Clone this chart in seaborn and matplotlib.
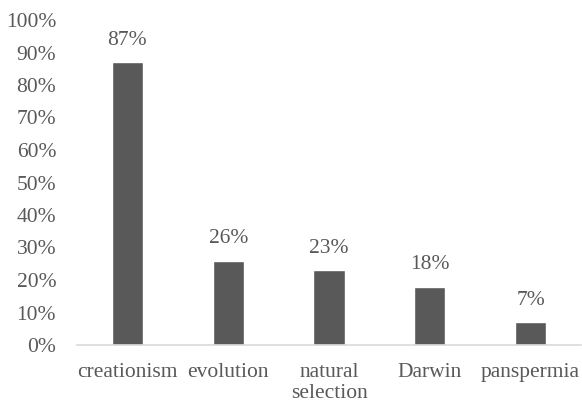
import matplotlib
matplotlib.use("Agg")
import matplotlib.pyplot as plt
import seaborn as sns
import pandas as pd
from matplotlib.ticker import PercentFormatter

categories = ["creationism", "evolution", "natural\nselection", "Darwin", "panspermia"]
shares = [87, 26, 23, 18, 7]
y_ticks = list(range(0, 101, 10))

sns.set_theme(style="white")
plt.rcParams["font.family"] = ["Liberation Serif", "DejaVu Serif"]

text_color = "#595959"
bar_color = "#595959"
font_size = 15.5

df = pd.DataFrame({"term": categories, "share": shares})

fig = plt.figure(figsize=(5.82, 4.03), dpi=100)
ax = fig.add_axes([77 / 582, 58 / 403, 504 / 582, 325 / 403])

sns.barplot(data=df, x="term", y="share", color=bar_color, width=0.31,
            saturation=1, ax=ax)

for patch, val in zip(ax.patches, shares):
    ax.text(patch.get_x() + patch.get_width() / 2, val + 3.7, f"{val}%",
            ha="center", va="bottom", fontsize=font_size, color=text_color)

ax.set_ylim(0, 100)
ax.set_xlim(-0.5, len(categories) - 0.5)
ax.set_yticks(y_ticks)
ax.yaxis.set_major_formatter(PercentFormatter(decimals=0))
ax.set_xlabel("")
ax.set_ylabel("")
ax.tick_params(axis="both", length=0, labelsize=font_size, colors=text_color)
ax.tick_params(axis="x", pad=13)
ax.tick_params(axis="y", pad=15)
for lbl in ax.get_xticklabels():
    lbl.set_linespacing(1.15)

for side in ["left", "right", "top"]:
    ax.spines[side].set_visible(False)
ax.spines["bottom"].set_color("#d9d9d9")
ax.spines["bottom"].set_linewidth(1.2)

fig.savefig("out.png", dpi=100)
